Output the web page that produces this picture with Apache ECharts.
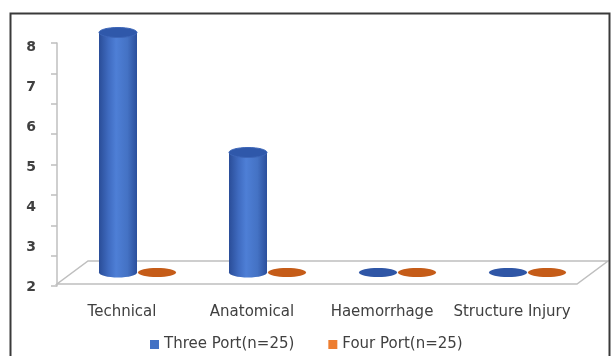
<!DOCTYPE html>
<html>
<head>
<meta charset="utf-8">
<script src="https://cdn.jsdelivr.net/npm/echarts@6/dist/echarts.min.js"></script>
<style>
  html, body { margin: 0; padding: 0; background: #fff; }
  #chart { width: 613px; height: 356px; }
</style>
</head>
<body>
<div id="chart"></div>
<script>
// Complications by port technique
const categories = ['Technical', 'Anatomical', 'Haemorrhage', 'Structure Injury'];
const threePort = [8, 5, 2, 2];
const fourPort = [2, 2, 2, 2];
const seriesNames = ['Three Port(n=25)', 'Four Port(n=25)'];
const yTicks = [2, 3, 4, 5, 6, 7, 8];

const Y_MIN = yTicks[0];
const Y_MAX = yTicks[yTicks.length - 1];

// floor depth (pseudo 3D)
const DEPTH_X = 31;
const DEPTH_Y = 23;
const FRONT_LIFT = 3;
const BAR_RX = 19;
const BAR_RY = 5;

const FONT = 'DejaVu Sans';
const TEXT_COLOR = '#404040';

const palettes = [
  { body: ['#2a4d98', '#3f6bc0', '#4e7fd6', '#4472c4', '#2b4f9c'], top: '#2f58aa', disc: '#2f56a6', legend: '#4472c4' },
  { body: ['#a8480f', '#c9601c', '#d86f28', '#c9601c', '#a8480f'], top: '#c25a16', disc: '#c55c18', legend: '#ed7d31' }
];

function bodyGradient(p) {
  return new echarts.graphic.LinearGradient(0, 0, 1, 0, [
    { offset: 0, color: p.body[0] },
    { offset: 0.25, color: p.body[1] },
    { offset: 0.45, color: p.body[2] },
    { offset: 0.75, color: p.body[3] },
    { offset: 1, color: p.body[4] }
  ]);
}

function cylinderRenderer(seriesIdx) {
  const p = palettes[seriesIdx];
  return function (params, api) {
    const idx = api.value(0);
    const v = api.value(1);
    const base = api.coord([idx, Y_MIN]);
    const top = api.coord([idx, Math.max(v, Y_MIN)]);
    const offX = DEPTH_X / 2 + (seriesIdx === 0 ? -BAR_RX - 0.5 : BAR_RX + 0.5);
    const offY = -(FRONT_LIFT + DEPTH_Y / 2);
    const cx = base[0] + offX;
    const yb = base[1] + offY;
    const yt = top[1] + offY;
    const children = [];
    if (yb - yt < 1) {
      children.push({
        type: 'ellipse',
        shape: { cx: cx, cy: yb, rx: BAR_RX, ry: BAR_RY - 0.5 },
        style: { fill: p.disc }
      });
    } else {
      children.push({
        type: 'ellipse',
        shape: { cx: cx, cy: yb, rx: BAR_RX, ry: BAR_RY },
        style: { fill: bodyGradient(p) }
      });
      children.push({
        type: 'rect',
        shape: { x: cx - BAR_RX, y: yt, width: BAR_RX * 2, height: yb - yt },
        style: { fill: bodyGradient(p) }
      });
      children.push({
        type: 'ellipse',
        shape: { cx: cx, cy: yt, rx: BAR_RX, ry: BAR_RY },
        style: { fill: p.top, stroke: '#3d66b8', lineWidth: 1 }
      });
    }
    return { type: 'group', children: children };
  };
}

function floorRenderer(params, api) {
  const cs = params.coordSys;
  const yf = api.coord([0, Y_MIN])[1] - FRONT_LIFT;
  const x0 = cs.x;
  const x1 = cs.x + cs.width;
  return {
    type: 'polygon',
    shape: {
      points: [
        [x0, yf], [x1, yf],
        [x1 + DEPTH_X, yf - DEPTH_Y], [x0 + DEPTH_X, yf - DEPTH_Y]
      ]
    },
    style: { fill: '#ffffff', stroke: '#bfbfbf', lineWidth: 1.5 },
    silent: true
  };
}

const chart = echarts.init(document.getElementById('chart'), null, { renderer: 'canvas' });

chart.setOption({
  animation: false,
  backgroundColor: '#ffffff',
  graphic: [{
    type: 'rect',
    left: 8, top: 11,
    shape: { width: 599, height: 360 },
    style: { fill: 'none', stroke: '#3a3a3a', lineWidth: 2 },
    silent: true,
    z: 100
  }],
  legend: {
    top: 337,
    left: 150,
    padding: 0,
    icon: 'rect',
    itemWidth: 9,
    itemHeight: 9,
    itemGap: 34,
    textStyle: { fontFamily: FONT, fontSize: 15, color: TEXT_COLOR },
    data: seriesNames.map((n, i) => ({ name: n, itemStyle: { color: palettes[i].legend } }))
  },
  grid: [
    { left: 57, right: 36, top: 47, bottom: 69 },
    { left: 57, right: 36, top: 43, bottom: 70 }
  ],
  xAxis: [
    {
      type: 'category', gridIndex: 0, data: categories,
      axisLine: { show: false }, axisTick: { show: false },
      axisLabel: { interval: 0, hideOverlap: false, margin: 18, fontFamily: FONT, fontSize: 15, color: TEXT_COLOR }
    },
    { type: 'value', gridIndex: 1, show: false, min: 0, max: 1 }
  ],
  yAxis: [
    {
      type: 'value', gridIndex: 0, min: Y_MIN, max: Y_MAX, interval: 1,
      axisLine: { show: false }, axisTick: { show: false }, splitLine: { show: false },
      axisLabel: { margin: 21, fontFamily: FONT, fontSize: 14, fontWeight: 'bold', color: TEXT_COLOR }
    },
    {
      type: 'value', gridIndex: 1, min: 0, max: 8, interval: 1,
      axisLine: { show: true, lineStyle: { color: '#bfbfbf', width: 1.5 } },
      axisTick: { show: true, length: 6, lineStyle: { color: '#bfbfbf', width: 1.5 } },
      axisLabel: { show: false }, splitLine: { show: false }
    }
  ],
  series: [
    {
      type: 'custom', name: 'floor', xAxisIndex: 0, yAxisIndex: 0,
      renderItem: floorRenderer, data: [[0, Y_MIN]], silent: true, z: 1
    },
    {
      type: 'custom', name: seriesNames[0], xAxisIndex: 0, yAxisIndex: 0,
      renderItem: cylinderRenderer(0),
      data: threePort.map((v, i) => [i, v]), z: 2,
      itemStyle: { color: palettes[0].legend }
    },
    {
      type: 'custom', name: seriesNames[1], xAxisIndex: 0, yAxisIndex: 0,
      renderItem: cylinderRenderer(1),
      data: fourPort.map((v, i) => [i, v]), z: 2,
      itemStyle: { color: palettes[1].legend }
    }
  ]
});
</script>
</body>
</html>
